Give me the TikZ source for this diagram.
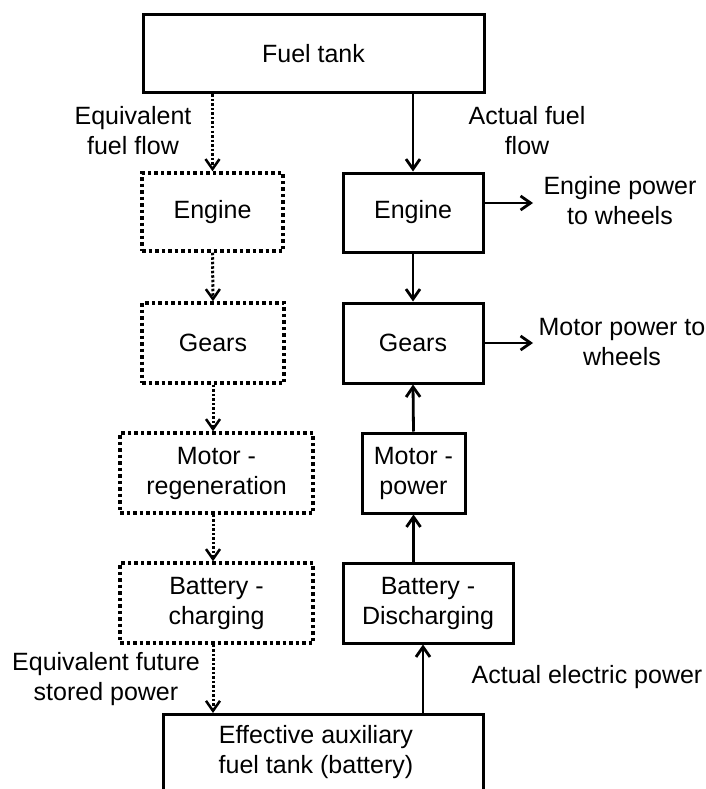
\documentclass[tikz,border=0pt]{standalone}
\usepackage{fontspec}
\setmainfont{Liberation Sans}
\usetikzlibrary{arrows.meta}
\tikzset{
  solidbox/.style={draw=black, line width=3pt, fill=white, align=center, inner sep=0pt},
  dotbox/.style={draw=black, line width=3.5pt, dash pattern=on 3.5pt off 3pt, align=center, inner sep=0pt},
  lbl/.style={align=center, inner sep=0pt},
  sarrow/.style={line width=2.8pt, -{Straight Barb[length=10pt,width=14pt,line width=2.8pt]}},
  darrow/.style={line width=3pt, dash pattern=on 2.5pt off 2pt, -{Straight Barb[length=10pt,width=14pt,line width=2.5pt]}}
}
\begin{document}
\begin{tikzpicture}[x=1pt,y=-1pt,font=\fontsize{25}{30}\selectfont]
\clip (0,0) rectangle (705,789);
\fill[white] (0,0) rectangle (705,789);
% boxes
\node[solidbox, minimum width=341pt, minimum height=78pt] (fuel) at (313.5,54) {Fuel tank};
\node[dotbox, minimum width=141pt, minimum height=78pt] (engL) at (212.5,212) {Engine};
\node[solidbox, minimum width=140pt, minimum height=79pt] (engR) at (413,212.5) {Engine};
\node[dotbox, minimum width=142pt, minimum height=80pt] (gearsL) at (213,343) {Gears};
\node[solidbox, minimum width=140pt, minimum height=80pt] (gearsR) at (413,343) {Gears};
\node[dotbox, minimum width=193pt, minimum height=80pt] (motorL) at (216.5,473) {Motor -\\regeneration};
\node[solidbox, minimum width=103pt, minimum height=80pt] (motorR) at (413.5,473) {Motor -\\power};
\node[dotbox, minimum width=193pt, minimum height=80pt] (battL) at (216.5,603) {Battery -\\charging};
\node[solidbox, minimum width=170pt, minimum height=80pt] (battR) at (428,603) {Battery -\\Discharging};
\node[solidbox, minimum width=320pt, minimum height=130pt, anchor=north] (eff) at (323,713) {};
\node[lbl] (effText) at (316,752) {Effective auxiliary\\fuel tank (battery)};
% labels
\node[lbl] (lEq) at (133,131) {Equivalent\\fuel flow};
\node[lbl] (lAct) at (527,131) {Actual fuel\\flow};
\node[lbl] (lEng) at (620,201) {Engine power\\to wheels};
\node[lbl] (lMot) at (622,342) {Motor power to\\wheels};
\node[lbl] (lFut) at (106,679) {Equivalent future\\stored power};
\node[lbl] (lElec) at (587,677) {Actual electric power};
\coordinate (ep) at (533,203);
\coordinate (mp) at (533,343);
% connectors
\draw[darrow] (fuel.south -| engL.north) -- (engL.north);
\draw[sarrow] (fuel.south -| engR.north) -- (engR.north);
\draw[darrow] (engL.south) -- (gearsL.north);
\draw[darrow] (gearsL.south) -- (gearsL.south |- motorL.north);
\draw[darrow] (motorL.south -| gearsL.south) -- (battL.north -| gearsL.south);
\draw[darrow] (battL.south -| gearsL.south) -- (eff.north -| gearsL.south);
\draw[sarrow] (engR.south) -- (gearsR.north);
\draw[sarrow] (engR.east |- ep) -- (ep);
\draw[sarrow] (gearsR.east |- mp) -- (mp);
\draw[sarrow] (motorR.north) -- (gearsR.south);
\draw[sarrow] (battR.north -| motorR.north) -- (motorR.south);
\coordinate (ea) at (423,713);
\draw[sarrow] (ea) -- (battR.south -| ea);
\end{tikzpicture}
\end{document}
